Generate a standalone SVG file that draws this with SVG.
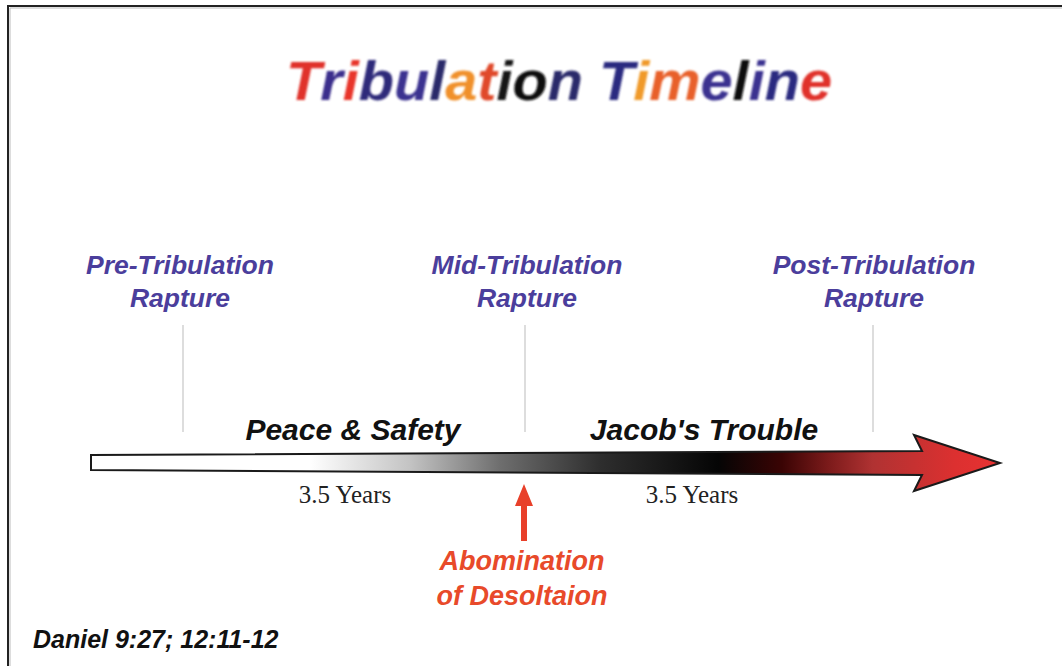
<svg xmlns="http://www.w3.org/2000/svg" width="1062" height="666" viewBox="0 0 1062 666">
<defs>
<linearGradient id="shaft" gradientUnits="userSpaceOnUse" x1="91" y1="0" x2="1000" y2="0">
<stop offset="0" stop-color="#ffffff"/>
<stop offset="0.24" stop-color="#ffffff"/>
<stop offset="0.35" stop-color="#c4c4c4"/>
<stop offset="0.45" stop-color="#6e6e6e"/>
<stop offset="0.56" stop-color="#2e2e2e"/>
<stop offset="0.69" stop-color="#050505"/>
<stop offset="0.76" stop-color="#3a0404"/>
<stop offset="0.81" stop-color="#7a1a1a"/>
<stop offset="0.86" stop-color="#b03232"/>
<stop offset="0.95" stop-color="#dc3030"/>
<stop offset="1" stop-color="#e83232"/>
</linearGradient>
<filter id="soft" x="-5%" y="-20%" width="110%" height="140%"><feGaussianBlur stdDeviation="0.8"/></filter>
</defs>
<style>
.lbl{font-family:"Liberation Sans",Arial,sans-serif;font-style:italic;font-weight:bold;font-size:26.5px;fill:#4b3e9c;text-anchor:middle}
.phase{font-family:"Liberation Sans",Arial,sans-serif;font-style:italic;font-weight:bold;font-size:30px;fill:#111;text-anchor:middle}
.yrs{font-family:"Liberation Serif","Times New Roman",serif;font-size:25px;fill:#222;text-anchor:middle}
.abom{font-family:"Liberation Sans",Arial,sans-serif;font-style:italic;font-weight:bold;font-size:27px;fill:#e84a2a;text-anchor:middle}
.tick{stroke:#d2d2d2;stroke-width:1.5}
</style>
<rect width="1062" height="666" fill="#ffffff"/>
<path d="M8,666 L8,6 L1062,6" fill="none" stroke="#222" stroke-width="2"/>
<path d="M10,666 L10,8 L1062,8" fill="none" stroke="#bbb" stroke-width="1"/>

<g id="title">
<text x="559" y="100" font-family="Liberation Sans,Arial,sans-serif" font-style="italic" font-weight="bold" font-size="55" text-anchor="middle" textLength="546" lengthAdjust="spacingAndGlyphs" filter="url(#soft)"><tspan fill="#e0302a">T</tspan><tspan fill="#3a2f8c">r</tspan><tspan fill="#e8352a">i</tspan><tspan fill="#2f2a7a">b</tspan><tspan fill="#3a3090">u</tspan><tspan fill="#2a2a6a">l</tspan><tspan fill="#f0902a">a</tspan><tspan fill="#e04a2a">t</tspan><tspan fill="#151515">i</tspan><tspan fill="#101010">o</tspan><tspan fill="#2a2a6a">n</tspan> <tspan fill="#2a2a80">T</tspan><tspan fill="#f09a2a">i</tspan><tspan fill="#e8602a">m</tspan><tspan fill="#3a3090">e</tspan><tspan fill="#101010">l</tspan><tspan fill="#3a3090">i</tspan><tspan fill="#2a2a80">n</tspan><tspan fill="#e0302a">e</tspan></text>
</g>

<g id="connectors">
<line class="tick" x1="183" y1="325" x2="183" y2="432"/>
<line class="tick" x1="525" y1="325" x2="525" y2="432"/>
<line class="tick" x1="873" y1="325" x2="873" y2="432"/>
<path d="M91,455 L922,451 L914,435 L1000,463 L914,491 L922,475 L91,470 Z" fill="url(#shaft)" stroke="#1a1a1a" stroke-width="2" stroke-linejoin="miter"/>
<path d="M524,484 L533,506 L527,506 L527,541 L521,541 L521,506 L515,506 Z" fill="#e8402a"/>
</g>

<g id="pre">
<text class="lbl" x="180" y="274">Pre-Tribulation</text>
<text class="lbl" x="180" y="307">Rapture</text>
</g>
<g id="mid">
<text class="lbl" x="527" y="274">Mid-Tribulation</text>
<text class="lbl" x="527" y="307">Rapture</text>
</g>
<g id="post">
<text class="lbl" x="874" y="274">Post-Tribulation</text>
<text class="lbl" x="874" y="307">Rapture</text>
</g>

<g id="peace"><text class="phase" x="353" y="440">Peace &amp; Safety</text></g>
<g id="jacob"><text class="phase" x="704" y="440">Jacob's Trouble</text></g>
<g id="years1"><text class="yrs" x="345" y="503">3.5 Years</text></g>
<g id="years2"><text class="yrs" x="692" y="503">3.5 Years</text></g>

<g id="abomination">
<text class="abom" x="522" y="570">Abomination</text>
<text class="abom" x="522" y="605">of Desoltaion</text>
</g>

<g id="ref"><text x="33" y="648" font-family="Liberation Sans,Arial,sans-serif" font-style="italic" font-weight="bold" font-size="25" fill="#111">Daniel 9:27; 12:11-12</text></g>
</svg>
